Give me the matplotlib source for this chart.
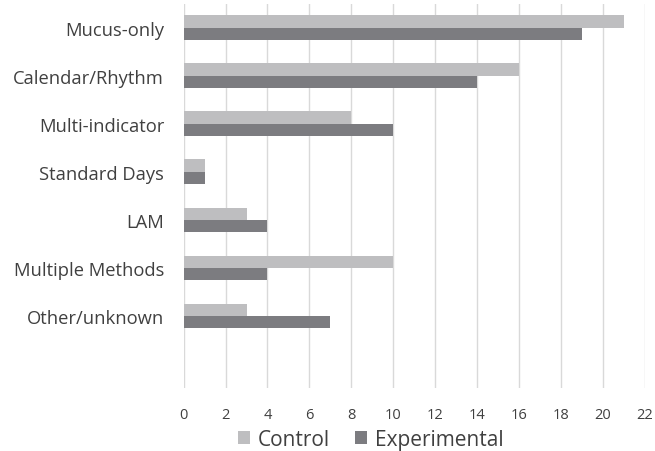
import matplotlib.pyplot as plt
import numpy as np

# Data
categories = [
    "Mucus-only",
    "Calendar/Rhythm",
    "Multi-indicator",
    "Standard Days",
    "LAM",
    "Multiple Methods",
    "Other/unknown",
    "",
]
control = [21, 16, 8, 1, 3, 10, 3, 0]
experimental = [19, 14, 10, 1, 4, 4, 7, 0]
x_ticks = list(range(0, 23, 2))

TEXT = "#404040"
plt.rcParams["font.family"] = ["Open Sans", "DejaVu Sans"]

fig = plt.figure(figsize=(6.55, 4.52), dpi=100)
ax = fig.add_axes([0.2803, 0.1394, 0.7044, 0.8496])

y = np.arange(len(categories))
h = 0.26
ax.barh(y - h / 2, control, h, color="#BEBEC0", label="Control", zorder=3)
ax.barh(y + h / 2, experimental, h, color="#7C7C80", label="Experimental", zorder=3)

ax.set_ylim(len(categories) - 0.5, -0.5)
ax.set_xlim(0, 22)
ax.set_xticks(x_ticks)
ax.set_yticks(y)
ax.set_yticklabels(categories, fontsize=13.2, color=TEXT)
ax.tick_params(axis="x", labelsize=10.5, colors=TEXT, length=0, pad=14)
ax.tick_params(axis="y", length=0, pad=14)
ax.grid(axis="x", color="#D9D9D9", linewidth=1, zorder=0)
for s in ax.spines.values():
    s.set_visible(False)

fig.legend(
    loc="center",
    bbox_to_anchor=(0.5656, 0.025),
    ncol=2,
    frameon=False,
    fontsize=15,
    handlelength=0.58,
    handleheight=0.58,
    handletextpad=0.38,
    columnspacing=1.2,
    labelcolor=TEXT,
)

fig.savefig("out.png", dpi=100)
